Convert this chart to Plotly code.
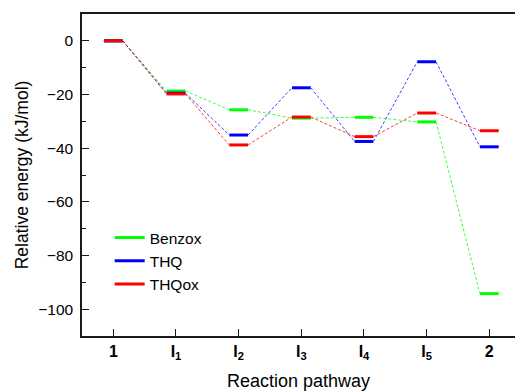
import plotly.graph_objects as go

# ---- data ----
states = ["1", "I1", "I2", "I3", "I4", "I5", "2"]
tick_labels = ["<b>1</b>", "<b>I<sub>1</sub></b>", "<b>I<sub>2</sub></b>",
               "<b>I<sub>3</sub></b>", "<b>I<sub>4</sub></b>",
               "<b>I<sub>5</sub></b>", "<b>2</b>"]
benzox = [0, -18.7, -25.7, -28.8, -28.5, -30.2, -94.2]
thq = [0, -19.5, -35.1, -17.5, -37.5, -7.8, -39.5]
thqox = [0, -19.8, -38.8, -28.4, -35.7, -26.9, -33.5]

series = [("Benzox", benzox, "#00ff00"),
          ("THQ", thq, "#0000ff"),
          ("THQox", thqox, "#ff0000")]

HW = 0.15  # half width of a level bar (in category units)
FONT = "Liberation Sans, Arial, sans-serif"

fig = go.Figure()

# connectors (drawn first, beneath levels)
for name, vals, col in series:
    cx, cy = [], []
    for i in range(len(vals) - 1):
        cx += [i + HW, i + 1 - HW, None]
        cy += [vals[i], vals[i + 1], None]
    fig.add_trace(go.Scatter(x=cx, y=cy, mode="lines", showlegend=False,
                             hoverinfo="skip",
                             line=dict(color=col, width=1, dash="3px,2px"),
                             opacity=0.75))

# energy levels
for name, vals, col in series:
    lx, ly = [], []
    for i, v in enumerate(vals):
        lx += [i - HW, i + HW, None]
        ly += [v, v, None]
    fig.add_trace(go.Scatter(x=lx, y=ly, mode="lines", name=name,
                             line=dict(color=col, width=3)))

fig.update_layout(
    width=515, height=391,
    margin=dict(l=82, r=0, t=14, b=53),
    paper_bgcolor="white", plot_bgcolor="white",
    font=dict(family=FONT, color="black"),
    legend=dict(x=0.064, y=0.357, xanchor="left", yanchor="top",
                bgcolor="rgba(0,0,0,0)", font=dict(size=15.5, family=FONT),
                itemwidth=30, tracegroupgap=0),
)

fig.update_xaxes(
    range=[-0.5, 6.41], tickmode="array", tickvals=list(range(len(states))),
    ticktext=tick_labels, showgrid=False, zeroline=False,
    showline=True, linecolor="#1a1a1a", linewidth=1.5, mirror=True,
    ticks="inside", ticklen=7, tickwidth=1.3, tickcolor="#1a1a1a",
    tickfont=dict(size=16, family=FONT),
    title=dict(text="Reaction pathway", font=dict(size=18, family=FONT), standoff=16),
)
fig.update_yaxes(
    range=[-110, 10], tickmode="array", tickvals=[0, -20, -40, -60, -80, -100],
    showgrid=False, zeroline=False,
    showline=True, linecolor="#1a1a1a", linewidth=1.5,
    ticks="inside", ticklen=7, tickwidth=1.3, tickcolor="#1a1a1a",
    minor=dict(tickvals=[-10, -30, -50, -70, -90], ticks="inside", ticklen=4,
               tickwidth=1.3, tickcolor="#1a1a1a", showgrid=False),
    tickfont=dict(size=15.5, family=FONT), ticklabelstandoff=4,
    title=dict(text="Relative energy (kJ/mol)", font=dict(size=17.5, family=FONT), standoff=5),
)

fig.write_html("out.html")
